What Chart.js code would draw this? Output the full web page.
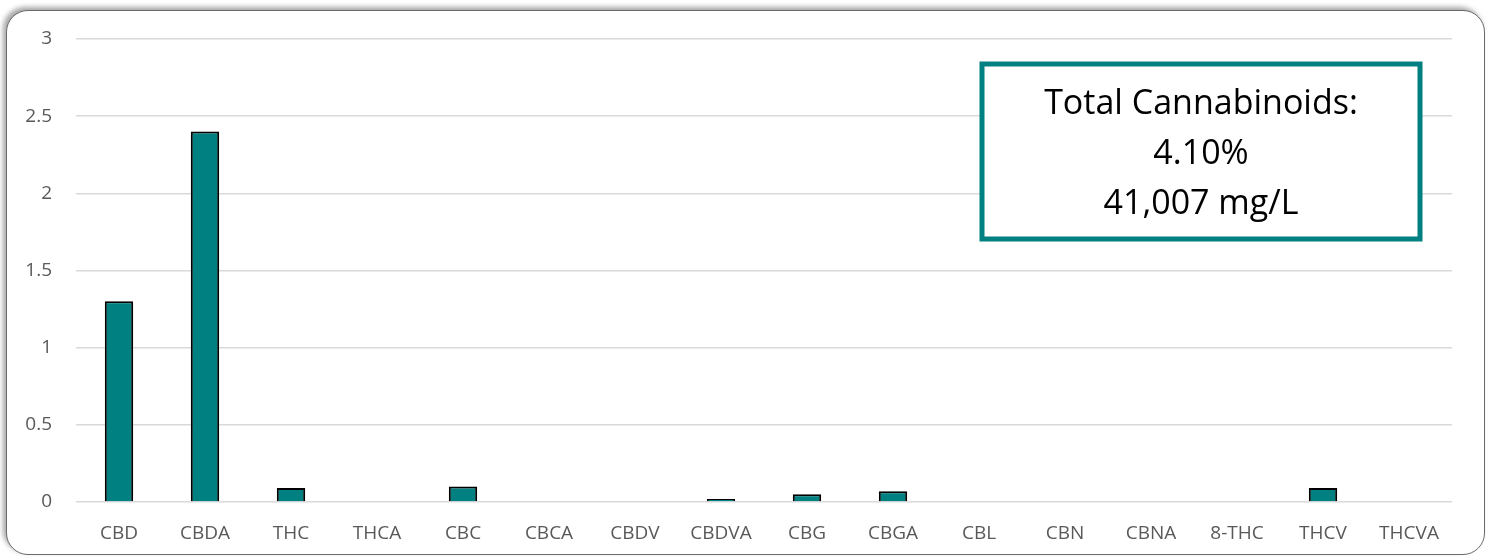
<!DOCTYPE html>
<html>
<head>
<meta charset="utf-8">
<script src="https://cdn.jsdelivr.net/npm/chart.js@4/dist/chart.umd.min.js"></script>
<style>
  html, body { margin: 0; padding: 0; background: #ffffff; }
  #frame {
    position: absolute; left: 6px; top: 10px; width: 1477px; height: 543px;
    border: 1.5px solid #6b6b6b; border-radius: 22px; background: #fff;
    box-shadow: -3px -3px 5px rgba(0,0,0,0.35);
  }
  #wrap { position: absolute; left: 0; top: 0; width: 1492px; height: 558px; }
</style>
</head>
<body>
<div id="frame"></div>
<div id="wrap"><canvas id="cannabinoid-chart"></canvas></div>
<script>
// cannabinoid profile, percent
const compounds = ['CBD', 'CBDA', 'THC', 'THCA', 'CBC', 'CBCA', 'CBDV', 'CBDVA',
                   'CBG', 'CBGA', 'CBL', 'CBN', 'CBNA', '8-THC', 'THCV', 'THCVA'];
const percents = [1.30, 2.40, 0.09, 0, 0.10, 0, 0, 0.02,
                  0.05, 0.07, 0, 0.005, 0, 0, 0.09, 0];
const yTicks = [0, 0.5, 1, 1.5, 2, 2.5, 3];
const boxLines = ['Total Cannabinoids:', '4.10%', '41,007 mg/L'];

const TEAL = '#008080';
const FONT = "'Open Sans', 'Liberation Sans', sans-serif";

// text box in the upper right corner
const totalBox = {
    id: 'totalBox',
    afterDraw(chart) {
        const ctx = chart.ctx;
        const area = chart.chartArea;
        const x = area.right - 470, y = area.top + 25, w = 438, h = 175;
        ctx.save();
        ctx.fillStyle = '#ffffff';
        ctx.fillRect(x, y, w, h);
        ctx.strokeStyle = TEAL;
        ctx.lineWidth = 5;
        ctx.strokeRect(x, y, w, h);
        ctx.fillStyle = '#000000';
        ctx.font = '34px ' + FONT;
        ctx.textAlign = 'center';
        ctx.textBaseline = 'middle';
        boxLines.forEach((line, i) => {
            ctx.fillText(line, x + w / 2, y + 40 + i * 50);
        });
        ctx.restore();
    }
};

const canvas = document.querySelector('#cannabinoid-chart');
new Chart(canvas.getContext('2d'), {
    type: 'bar',
    data: {
        labels: compounds,
        datasets: [{
            label: 'Percent',
            data: percents,
            backgroundColor: TEAL,
            borderColor: '#000000',
            borderWidth: 2,
            categoryPercentage: 1,
            barPercentage: 0.33,
        }]
    },
    options: {
        responsive: true,
        maintainAspectRatio: false,
        animation: false,
        layout: { padding: { left: 0, right: 40, top: 39, bottom: 0 } },
        plugins: {
            legend: { display: false },
            tooltip: { enabled: false },
        },
        scales: {
            x: {
                grid: { display: false, drawTicks: false },
                border: { display: false },
                ticks: { color: '#595959', font: { family: FONT, size: 19 }, padding: 20, maxRotation: 0 },
                afterFit(scale) { scale.height = 56; },
            },
            y: {
                min: 0,
                max: 3,
                afterBuildTicks(scale) { scale.ticks = yTicks.map(v => ({ value: v })); },
                grid: { color: '#d9d9d9', lineWidth: 1.5, drawTicks: false },
                border: { display: false },
                ticks: {
                    color: '#595959',
                    font: { family: FONT, size: 19 },
                    padding: 24,
                    callback: value => String(value),
                },
                afterFit(scale) { scale.width = 76; },
            }
        }
    },
    plugins: [totalBox]
});
</script>
</body>
</html>
